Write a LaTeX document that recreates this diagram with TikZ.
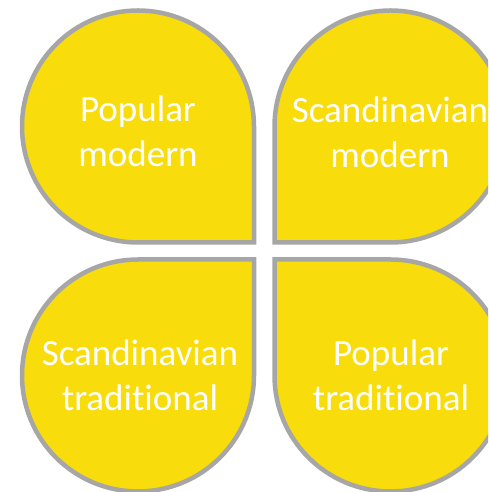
\documentclass[tikz,border=0pt]{standalone}
\usepackage{fontspec}
\setmainfont{Carlito}[Ligatures=CommonOff]
\definecolor{petal}{RGB}{248,220,12}
\definecolor{rim}{RGB}{166,166,166}
\tikzset{
  petalshape/.style={fill=petal, draw=rim, line width=4.5pt, miter limit=10},
  petaltext/.style={text=white, align=center, anchor=base, inner sep=0pt,
    font=\fontsize{37}{45}\selectfont}
}
\begin{document}
\begin{tikzpicture}[x=1pt,y=1pt]
\useasboundingbox (0,0) rectangle (488,492);
\clip (0,0) rectangle (488,492);
% top-left
\draw[petalshape] (254,249.5) -- (254,365.5)
  arc[start angle=0,end angle=180,radius=116]
  arc[start angle=180,end angle=270,radius=116] -- cycle;
% top-right
\draw[petalshape] (274.5,249.5) -- (274.5,365.5)
  arc[start angle=180,end angle=0,radius=116]
  arc[start angle=0,end angle=-90,radius=116] -- cycle;
% bottom-left
\draw[petalshape] (254,232.5) -- (138,232.5)
  arc[start angle=90,end angle=180,radius=116]
  arc[start angle=180,end angle=360,radius=116] -- cycle;
% bottom-right
\draw[petalshape] (274.5,232.5) -- (390.5,232.5)
  arc[start angle=90,end angle=0,radius=116]
  arc[start angle=0,end angle=-180,radius=116] -- cycle;
\node[petaltext] (pm) at (138,325) {Popular\\modern};
\node[petaltext] (sm) at (390,324) {Scandinavian\\modern};
\node[petaltext] (st) at (140,81) {Scandinavian\\traditional};
\node[petaltext] (pt) at (391,81) {Popular\\traditional};
\end{tikzpicture}
\end{document}
